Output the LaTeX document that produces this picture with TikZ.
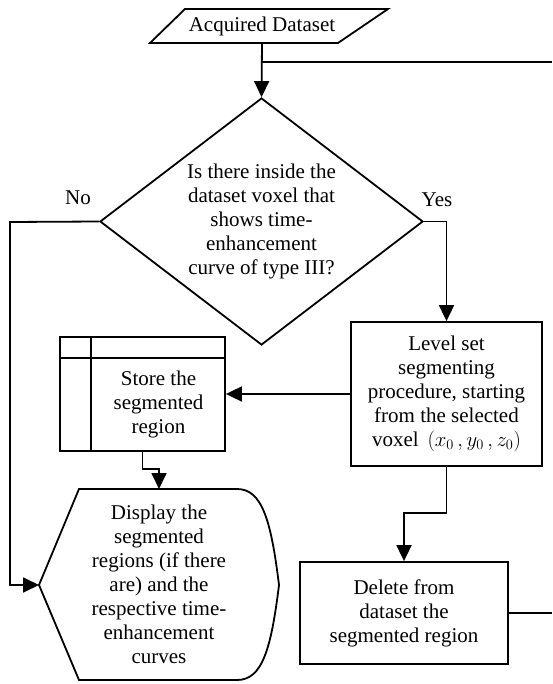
\documentclass[tikz,border=0pt]{standalone}
\usepackage{fontspec}
\setmainfont{Liberation Serif}
\usetikzlibrary{shapes.geometric,arrows.meta,calc}
\begin{document}
\begin{tikzpicture}[x=1pt,y=-1pt, line width=1.8pt,
  every node/.style={font=\fontsize{21}{24}\selectfont, align=center, inner sep=0pt},
  box/.style={draw, rectangle},
  arr/.style={-{Triangle[length=16pt,width=15pt]}},
]
\useasboundingbox (0,0) rectangle (552,684);
% Acquired dataset (parallelogram)
\draw (150,43) -- (185,9) -- (388,9) -- (338,43) -- cycle;
\node[minimum width=150pt, minimum height=34pt] (acq) at (262,26) {Acquired Dataset};
% decision
\node[draw, diamond, aspect=1.31, minimum width=323pt, minimum height=247pt] (dec) at (261.5,221.5)
  {Is there inside the\\dataset voxel that\\shows time-\\enhancement\\curve of type III?};
\node (no) at (78,198) {No};
\node (yes) at (437,200) {Yes};
% level set box
\node[box, minimum width=191pt, minimum height=144pt] (lvl) at (446.5,394)
  {Level set\\segmenting\\procedure, starting\\from the selected\\voxel \,$(x_0\,, y_0\,, z_0)$};
% store box
\node[box, minimum width=165pt, minimum height=114pt] (store) at (142.5,394) {};
\draw ($(store.north west)+(0,22)$) -- ($(store.north east)+(0,22)$);
\draw ($(store.north west)+(32,0)$) -- ($(store.south west)+(32,0)$);
\node (storetxt) at (158.5,404) {Store the\\segmented\\region};
% delete box
\node[box, minimum width=208pt, minimum height=102pt] (del) at (404,613)
  {Delete from\\dataset the\\segmented region};
% display shape
\draw (79,489) -- (237,489) .. controls (262,489) and (271,520) .. (279,585)
      .. controls (271,650) and (262,680) .. (237,680) -- (79,680) -- (39,585) -- cycle;
\coordinate (dispN) at (159,489);
\coordinate (dispW) at (39,585);
\node (disp) at (159,584) {Display the\\segmented\\regions (if there\\are) and the\\respective time-\\enhancement\\curves};
% connectors
\coordinate (j) at (262,62);
\coordinate (loopA) at (552,62);
\coordinate (loopB) at (552,613);
\coordinate (nocorner) at (10,222);
\draw[arr] (acq.south) -- (dec.north);
\draw (j) -- (loopA);
\draw[arr] (dec.west) -- (nocorner) |- (dispW);
\draw[arr] (dec.east) -| (lvl.north);
\draw[arr] (lvl.west) -- (store.east);
\draw[arr] (store.south) -- ++(0,17) -| (dispN);
\draw[arr] (lvl.south) -- ++(0,46) -| (del.north);
\draw (del.east) -- (loopB);
\end{tikzpicture}
\end{document}
